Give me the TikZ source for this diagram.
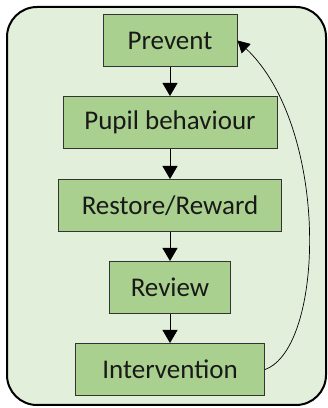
\documentclass[tikz,border=0pt]{standalone}
\usepackage{fontspec}
\setmainfont{Carlito}
\usetikzlibrary{arrows.meta}
\begin{document}
\begin{tikzpicture}[x=1pt,y=1pt,
  stage/.style={draw=black!80,fill=boxfill,line width=1pt,minimum height=52pt,
    inner sep=0pt,font=\fontsize{27}{30}\selectfont,text=black!90},
  flow/.style={-{Triangle[width=15pt,length=13pt]},line width=0.9pt}]
  \definecolor{panelfill}{RGB}{226,239,218}
  \definecolor{boxfill}{RGB}{169,208,142}
  \useasboundingbox (0,0) rectangle (328,408);
  \draw[fill=panelfill,line width=2pt,rounded corners=30pt] (7,3) rectangle (326,401);
  \node[stage,minimum width=134pt] (prevent) at (170,367.5) {Prevent};
  \node[stage,minimum width=214pt] (pupil)   at (170,285.5) {Pupil behaviour};
  \node[stage,minimum width=223pt] (restore) at (170,202.5) {Restore/Reward};
  \node[stage,minimum width=121pt] (review)  at (170,120.5) {Review};
  \node[stage,minimum width=189pt] (interv)  at (170,38.5) {Intervention};
  \draw[flow] (prevent) -- (pupil);
  \draw[flow] (pupil) -- (restore);
  \draw[flow] (restore) -- (review);
  \draw[flow] (review) -- (interv);
  \draw[-{Triangle[width=13pt,length=12pt]},line width=0.7pt]
    (interv.east) .. controls (325,60) and (330,280) .. (prevent.east);
\end{tikzpicture}
\end{document}
